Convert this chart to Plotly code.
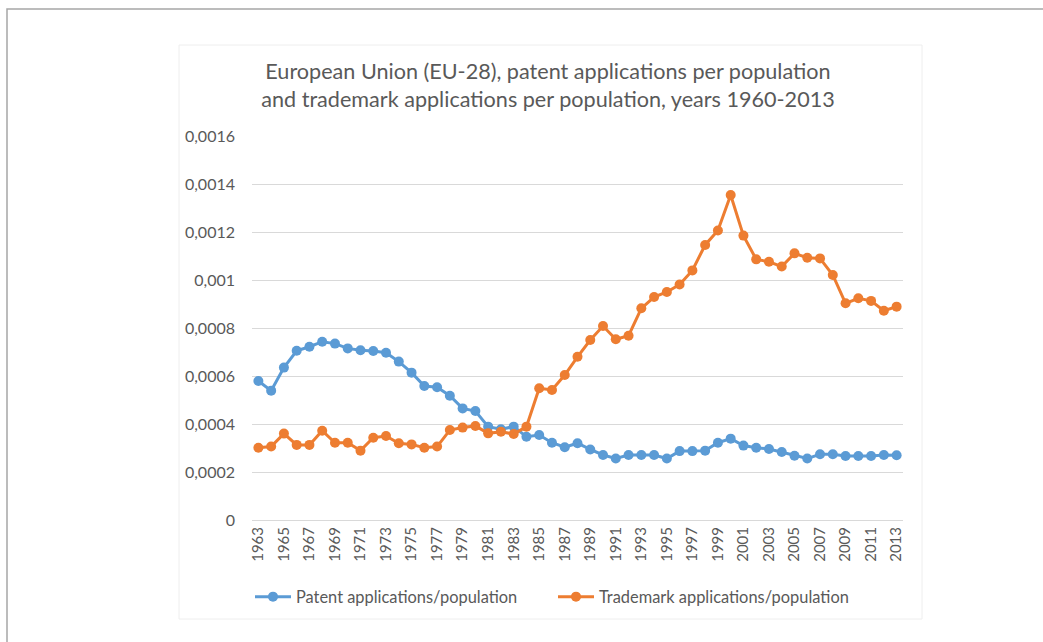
import plotly.graph_objects as go

years = list(range(1963, 2014))

patent = [0.000579, 0.000539, 0.000635, 0.000705, 0.000722, 0.000743, 0.000735, 0.000715,
          0.000707, 0.000704, 0.000697, 0.000660, 0.000614, 0.000558, 0.000553, 0.000518,
          0.000465, 0.000454, 0.000389, 0.000378, 0.000389, 0.000347, 0.000354, 0.000322,
          0.000303, 0.000320, 0.000294, 0.000271, 0.000256, 0.000271, 0.000271, 0.000271,
          0.000256, 0.000287, 0.000287, 0.000289, 0.000322, 0.000339, 0.000310, 0.000301,
          0.000296, 0.000283, 0.000268, 0.000256, 0.000274, 0.000274, 0.000267, 0.000267,
          0.000267, 0.000271, 0.000270]

trademark = [0.000301, 0.000306, 0.000360, 0.000313, 0.000313, 0.000372, 0.000322, 0.000322,
             0.000289, 0.000343, 0.000350, 0.000320, 0.000315, 0.000301, 0.000306, 0.000375,
             0.000385, 0.000392, 0.000361, 0.000368, 0.000358, 0.000389, 0.000549, 0.000542,
             0.000604, 0.000680, 0.000750, 0.000808, 0.000753, 0.000768, 0.000882, 0.000929,
             0.000950, 0.000981, 0.001040, 0.001146, 0.001206, 0.001354, 0.001185, 0.001086,
             0.001076, 0.001056, 0.001111, 0.001093, 0.001090, 0.001021, 0.000903, 0.000924,
             0.000913, 0.000872, 0.000889]

y_tick_vals = [0, 0.0002, 0.0004, 0.0006, 0.0008, 0.001, 0.0012, 0.0014, 0.0016]
y_tick_text = ["0", "0,0002", "0,0004", "0,0006", "0,0008", "0,001", "0,0012", "0,0014", "0,0016"]
x_tick_vals = list(range(1963, 2014, 2))

title_text = ("European Union (EU-28), patent applications per population<br>"
              "and trademark applications per population, years 1960-2013")

FONT = "Lato, 'Open Sans', sans-serif"
GRAY = "#595959"

fig = go.Figure()
fig.add_trace(go.Scatter(
    x=years, y=patent, mode="lines+markers", name="Patent applications/population",
    line=dict(color="#5B9BD5", width=3), marker=dict(color="#5B9BD5", size=10),
    legend="legend"))
fig.add_trace(go.Scatter(
    x=years, y=trademark, mode="lines+markers", name="Trademark applications/population",
    line=dict(color="#ED7D31", width=3), marker=dict(color="#ED7D31", size=10),
    legend="legend2"))

L, R, T, B = 252, 903, 136, 520
W, H = 1043, 642
pw, ph = R - L, B - T

def px(x):
    return (x - L) / pw

def py(y):
    return (B - y) / ph

leg_common = dict(orientation="h", xanchor="left", yanchor="middle", y=py(597),
                  font=dict(family=FONT, size=16.4, color=GRAY), itemwidth=36,
                  bgcolor="rgba(0,0,0,0)")

fig.update_layout(
    width=W, height=H,
    margin=dict(l=L, r=W - R, t=T, b=H - B, pad=0, autoexpand=False),
    paper_bgcolor="white", plot_bgcolor="white",
    font=dict(family=FONT, color=GRAY),
    title=dict(text=title_text, xref="container", yref="container",
               x=548 / W, xanchor="center", y=1 - 79 / H, yanchor="top",
               font=dict(family=FONT, size=21.6, color=GRAY)),
    showlegend=True,
    legend=dict(x=px(250), **leg_common),
    legend2=dict(x=px(553), **leg_common),
    xaxis=dict(range=[1962.5, 2013.5], tickvals=x_tick_vals, tickangle=-90,
               showgrid=False, zeroline=False, showline=True, linecolor="#d9d9d9",
               ticks="", tickfont=dict(family=FONT, size=15, color=GRAY)),
    yaxis=dict(range=[0, 0.0016], tickvals=y_tick_vals, ticktext=y_tick_text,
               showgrid=True, gridcolor="#d9d9d9", gridwidth=1, zeroline=False,
               ticks="", ticklabelstandoff=16,
               tickfont=dict(family=FONT, size=16, color=GRAY)),
    shapes=[
        dict(type="rect", xref="paper", yref="paper",
             x0=px(179), x1=px(922), y0=py(619), y1=py(45),
             line=dict(color="#eeeeee", width=1), layer="below"),
        dict(type="rect", xref="paper", yref="paper",
             x0=px(7), x1=px(1060), y0=py(660), y1=py(9),
             line=dict(color="#a6a6a6", width=1.5), layer="below"),
    ],
)

fig.write_html("out.html", config={"displayModeBar": False},
               post_script="document.body.style.margin='0';")
